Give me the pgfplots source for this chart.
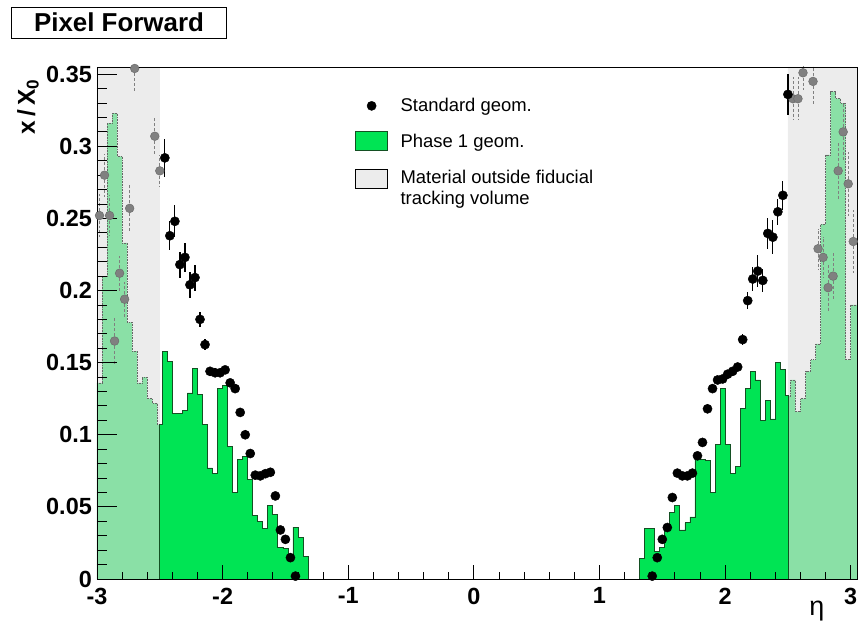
\documentclass[border=0pt]{standalone}
\usepackage{pgfplots}
\pgfplotsset{compat=1.18}
\usepackage{fontspec}
\setmainfont{Liberation Sans}

\definecolor{phaseone}{RGB}{0,228,84}
\definecolor{phaseoneedge}{RGB}{20,80,35}
\definecolor{phaseonelight}{RGB}{138,224,166}
\definecolor{outsidevol}{RGB}{236,236,236}
\definecolor{stdoutside}{RGB}{128,128,128}

\pgfplotsset{
  dot legend/.style={legend image code/.code={%
    \draw[##1] plot[only marks] coordinates {(16bp,0bp)};
    \path[draw=none, fill=none] (0bp,0bp) (45bp,0bp);}},
  box legend/.style={legend image code/.code={%
    \draw[##1] (0bp,-9.5bp) rectangle (32bp,9.5bp);
    \path[draw=none, fill=none] (45bp,0bp);}},
  raised box legend/.style={legend image code/.code={%
    \draw[##1] (0bp,0bp) rectangle (32bp,19bp);
    \path[draw=none, fill=none] (45bp,0bp);}},
}

\begin{document}
\begin{tikzpicture}
\useasboundingbox (-97bp,-42bp) rectangle (770bp,579bp);
\begin{axis}[
  at={(0,0)}, anchor=south west,
  scale only axis, width=760bp, height=512bp,
  xmin=-3, xmax=3.05, ymin=0, ymax=0.355,
  axis on top,
  axis line style={line width=0.8bp, black},
  tick pos=left, tick align=inside,
  every tick/.style={black, line width=0.9bp},
  xtick={-3,-2,-1,0,1,2,3},
  xticklabels={-3,-2,-1,0,1,2,3},
  minor x tick num=4,
  ytick={0,0.05,0.1,0.15,0.2,0.25,0.3,0.35},
  yticklabels={0,0.05,0.1,0.15,0.2,0.25,0.3,0.35},
  minor y tick num=4,
  xtick style={/pgfplots/major tick length=14bp},
  minor x tick style={/pgfplots/minor tick length=7bp},
  ytick style={/pgfplots/major tick length=20bp},
  minor y tick style={/pgfplots/minor tick length=10bp},
  xticklabel style={font=\fontsize{23.5}{23.5}\bfseries\selectfont, inner sep=0pt, yshift=-8.5bp},
  yticklabel style={font=\fontsize{23.5}{23.5}\bfseries\selectfont, inner sep=0pt, xshift=-5bp},
  xlabel={η},
  xlabel style={font=\fontsize{27}{27}\selectfont, at={(axis cs:2.73,0)}, anchor=center, yshift=-32bp},
  ylabel={x\,/\,X\textsubscript{0}},
  ylabel style={font=\fontsize{24.5}{24.5}\bfseries\selectfont, at={([xshift=-62bp,yshift=-9bp]rel axis cs:0,1)}, anchor=base east},
  legend style={at={(rel axis cs:0.3395,0.939)}, anchor=north west, draw=none, fill=none,
    font=\fontsize{18.5}{21}\selectfont, inner sep=0pt, row sep=18bp,
    nodes={align=left, inner sep=0pt}},
  legend cell align=left,
]

% material outside the fiducial tracking volume
\addplot[const plot, fill=outsidevol, draw=none, forget plot]
  coordinates {(-3,0.355) (-2.5,0.355)} \closedcycle;
\addplot[const plot, fill=outsidevol, draw=none, forget plot]
  coordinates {(2.5,0.355) (3.05,0.355)} \closedcycle;

% Phase 1 geometry, outside the fiducial volume
\addplot[const plot, fill=phaseonelight, draw=black!60, densely dotted, line width=0.6bp, forget plot]
  coordinates {
  (-3.00,0.136) (-2.96,0.210) (-2.92,0.316) (-2.88,0.323) (-2.84,0.293)
  (-2.80,0.233) (-2.76,0.178) (-2.72,0.158) (-2.68,0.136) (-2.64,0.140)
  (-2.60,0.125) (-2.56,0.122) (-2.52,0.107) (-2.50,0.107)} \closedcycle;
\addplot[const plot, fill=phaseonelight, draw=black!60, densely dotted, line width=0.6bp, forget plot]
  coordinates {
  (2.50,0.127) (2.52,0.138) (2.56,0.116) (2.60,0.125) (2.64,0.144)
  (2.68,0.152) (2.72,0.163) (2.76,0.246) (2.80,0.294) (2.84,0.338)
  (2.88,0.333) (2.92,0.330) (2.96,0.152) (3.00,0.190) (3.05,0.190)} \closedcycle;

% Phase 1 geometry, inside the fiducial volume
\addplot[const plot, fill=phaseone, draw=phaseoneedge, line width=0.8bp, forget plot]
  coordinates {
  (-2.50,0.107) (-2.48,0.158) (-2.44,0.151) (-2.40,0.115) (-2.36,0.115)
  (-2.32,0.117) (-2.28,0.129) (-2.24,0.146) (-2.20,0.128) (-2.16,0.107)
  (-2.12,0.077) (-2.08,0.073) (-2.04,0.132) (-2.00,0.134) (-1.96,0.092)
  (-1.92,0.060) (-1.88,0.083) (-1.84,0.085) (-1.80,0.069) (-1.76,0.044)
  (-1.72,0.040) (-1.68,0.035) (-1.64,0.051) (-1.60,0.045) (-1.56,0.022)
  (-1.52,0.021) (-1.48,0.0155) (-1.44,0.036) (-1.40,0.029) (-1.36,0.0155)
  (-1.32,0.0155)} \closedcycle;
\addplot[const plot, fill=phaseone, draw=phaseoneedge, line width=0.8bp, forget plot]
  coordinates {
  (1.32,0.0144) (1.36,0.035) (1.40,0.035) (1.44,0.019) (1.48,0.022)
  (1.52,0.034) (1.56,0.046) (1.60,0.051) (1.64,0.034) (1.68,0.039)
  (1.72,0.043) (1.76,0.085) (1.80,0.083) (1.84,0.082) (1.88,0.060)
  (1.92,0.093) (1.96,0.132) (2.00,0.093) (2.04,0.073) (2.08,0.078)
  (2.12,0.1185) (2.16,0.132) (2.20,0.144) (2.24,0.138) (2.28,0.110)
  (2.32,0.124) (2.36,0.111) (2.40,0.150) (2.44,0.145) (2.48,0.127)
  (2.50,0.127)} \closedcycle;

% standard geometry, outside the fiducial volume
\addplot[only marks, mark=*, mark size=4.4bp, mark options={fill=stdoutside, draw=black!60}, forget plot,
  error bars/.cd, y dir=both, y explicit, error mark=none,
  error bar style={densely dashed, black!50, line width=0.8bp}]
  coordinates {
  (-2.98,0.252) +- (0,0.015) (-2.94,0.280) +- (0,0.015) (-2.90,0.252) +- (0,0.014)
  (-2.86,0.165) +- (0,0.016) (-2.82,0.212) +- (0,0.012) (-2.78,0.194) +- (0,0.012)
  (-2.74,0.257) +- (0,0.016) (-2.70,0.354) +- (0,0.016) (-2.54,0.307) +- (0,0.013)
  (-2.50,0.283) +- (0,0.011)
  (2.54,0.333) +- (0,0.015) (2.58,0.333) +- (0,0.015) (2.62,0.351) +- (0,0.012)
  (2.70,0.345) +- (0,0.016) (2.74,0.229) +- (0,0.014) (2.78,0.223) +- (0,0.014)
  (2.82,0.202) +- (0,0.017) (2.86,0.210) +- (0,0.017) (2.90,0.283) +- (0,0.020)
  (2.94,0.310) +- (0,0.020) (2.98,0.274) +- (0,0.022) (3.02,0.234) +- (0,0.022)};

% standard geometry, inside the fiducial volume
\addplot[only marks, mark=*, mark size=4.6bp, black, forget plot,
  error bars/.cd, y dir=both, y explicit, error mark=none,
  error bar style={black, line width=1.2bp}]
  coordinates {
  (-2.46,0.292) +- (0,0.013) (-2.42,0.238) +- (0,0.010) (-2.38,0.248) +- (0,0.011)
  (-2.34,0.218) +- (0,0.009) (-2.30,0.223) +- (0,0.010) (-2.26,0.204) +- (0,0.009)
  (-2.22,0.209) +- (0,0.009) (-2.18,0.180) +- (0,0.005) (-2.14,0.1625) +- (0,0.004)
  (-2.10,0.144) +- (0,0.003) (-2.06,0.143) +- (0,0.003) (-2.02,0.143) +- (0,0.003)
  (-1.98,0.145) +- (0,0.003) (-1.94,0.136) +- (0,0.003) (-1.90,0.132) +- (0,0.003)
  (-1.86,0.1155) +- (0,0.003) (-1.82,0.100) +- (0,0.003) (-1.78,0.087) +- (0,0.002)
  (-1.74,0.072) +- (0,0.002) (-1.70,0.0715) +- (0,0.002) (-1.66,0.073) +- (0,0.002)
  (-1.62,0.074) +- (0,0.002) (-1.58,0.0576) +- (0,0.002) (-1.54,0.034) +- (0,0.002)
  (-1.50,0.0275) +- (0,0.002) (-1.46,0.0148) +- (0,0.001) (-1.42,0.002) +- (0,0.001)
  (1.42,0.002) +- (0,0.001) (1.46,0.0148) +- (0,0.001) (1.50,0.0275) +- (0,0.002)
  (1.54,0.0357) +- (0,0.002) (1.58,0.0565) +- (0,0.002) (1.62,0.0734) +- (0,0.002)
  (1.66,0.0715) +- (0,0.002) (1.70,0.0715) +- (0,0.002) (1.74,0.0734) +- (0,0.002)
  (1.78,0.0854) +- (0,0.002) (1.82,0.0947) +- (0,0.003) (1.86,0.118) +- (0,0.003)
  (1.90,0.132) +- (0,0.003) (1.94,0.138) +- (0,0.003) (1.98,0.1387) +- (0,0.003)
  (2.02,0.142) +- (0,0.003) (2.06,0.144) +- (0,0.003) (2.10,0.147) +- (0,0.003)
  (2.14,0.166) +- (0,0.004) (2.18,0.193) +- (0,0.006) (2.22,0.208) +- (0,0.008)
  (2.26,0.2135) +- (0,0.011) (2.30,0.207) +- (0,0.008) (2.34,0.2396) +- (0,0.011)
  (2.38,0.237) +- (0,0.012) (2.42,0.2546) +- (0,0.009) (2.46,0.266) +- (0,0.010)
  (2.50,0.336) +- (0,0.014)};

% legend
\addlegendimage{mark=*, mark size=4.6bp, black, dot legend}
\addlegendentry{Standard geom.}
\addlegendimage{fill=phaseone, draw=phaseoneedge, line width=0.8bp, box legend}
\addlegendentry{Phase 1 geom.}
\addlegendimage{fill=outsidevol, draw=black, line width=0.8bp, raised box legend}
\addlegendentry{Material outside fiducial\\tracking volume}
\end{axis}

\node[draw, line width=0.8bp, minimum width=215bp, minimum height=31bp, inner sep=0pt,
  font=\fontsize{26}{26}\bfseries\selectfont] at (22bp,556.5bp) {Pixel Forward};
\end{tikzpicture}
\end{document}
